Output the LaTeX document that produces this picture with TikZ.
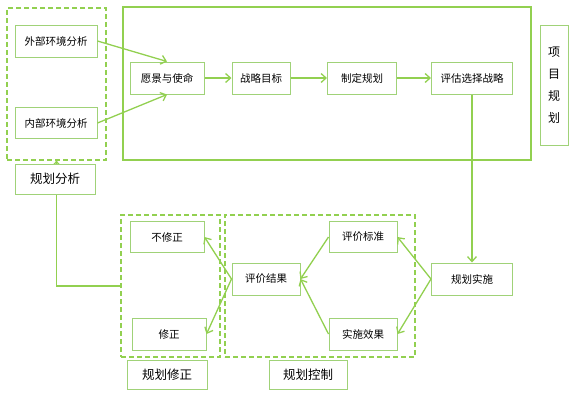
\documentclass[tikz,border=0pt]{standalone}
\usepackage{fontspec}
\newfontfamily\cjk{Noto Sans CJK SC}
\usetikzlibrary{arrows.meta}
\definecolor{lgreen}{RGB}{146,208,80}
\definecolor{bgreen}{RGB}{160,210,120}
\tikzset{
    box/.style={draw=bgreen, line width=1pt, fill=white, inner sep=0pt,
        font=\cjk\fontsize{10.5}{12}\selectfont},
    lbl/.style={box, font=\cjk\fontsize{12.5}{14}\selectfont},
    grp/.style={draw=lgreen, line width=1.2pt, dash pattern=on 5pt off 3pt, inner sep=0pt},
    arr/.style={draw=lgreen, line width=1.3pt, -{Straight Barb[length=5pt,width=9pt]}},
}
\begin{document}
\begin{tikzpicture}[x=1pt,y=-1pt]
    \useasboundingbox (0,0) rectangle (578,400);
    \node[draw=lgreen, line width=2.2pt, minimum width=408, minimum height=153,
        inner sep=0pt] (frame) at (327,83.5) {};
    \node[grp, minimum width=99, minimum height=152] (anlgrp) at (56.5,84) {};
    \node[grp, minimum width=99, minimum height=142] (fixgrp) at (170.5,286) {};
    \node[grp, minimum width=190, minimum height=142] (ctlgrp) at (320,286) {};
    \draw[arr] (fixgrp.west) -| (anlgrp.south);
    \node[box, minimum width=82, minimum height=32] (ext) at (56,41) {外部环境分析};
    \node[box, minimum width=82, minimum height=31] (int) at (56,123) {内部环境分析};
    \node[lbl, minimum width=80, minimum height=30] (anl) at (55,179) {规划分析};
    \node[box, minimum width=74, minimum height=32] (vis) at (167,78) {愿景与使命};
    \node[box, minimum width=58, minimum height=32] (goal) at (261,78) {战略目标};
    \node[box, minimum width=69, minimum height=32] (plan) at (362,78) {制定规划};
    \node[box, minimum width=81, minimum height=32] (eval) at (472,78) {评估选择战略};
    \node[box, minimum width=28, minimum height=120, align=center,
        font=\cjk\fontsize{12}{22}\selectfont] (proj) at (554,85) {项\\目\\规\\划};
    \node[box, minimum width=81, minimum height=32] (impl) at (472,279) {规划实施};
    \node[box, minimum width=68, minimum height=32] (res) at (266,279) {评价结果};
    \node[box, minimum width=68, minimum height=31] (std) at (363,237) {评价标准};
    \node[box, minimum width=68, minimum height=32] (eff) at (363,334) {实施效果};
    \node[box, minimum width=74, minimum height=31] (nofix) at (167,237) {不修正};
    \node[box, minimum width=74, minimum height=32] (fix) at (169,334) {修正};
    \node[lbl, minimum width=80, minimum height=29] (fixlbl) at (167,375) {规划修正};
    \node[lbl, minimum width=78, minimum height=29] (ctllbl) at (308,375) {规划控制};
    \draw[arr] (ext.east) -- (vis.north);
    \draw[arr] (int.east) -- (vis.south);
    \draw[arr] (vis) -- (goal);
    \draw[arr] (goal) -- (plan);
    \draw[arr] (plan) -- (eval);
    \draw[arr] (eval.south) -- (impl.north);
    \draw[arr] (impl.west) -- (std.east);
    \draw[arr] (impl.west) -- (eff.east);
    \draw[arr] (std.west) -- (res.east);
    \draw[arr] (eff.west) -- (res.east);
    \draw[arr] (res.west) -- (nofix.east);
    \draw[arr] (res.west) -- (fix.east);
\end{tikzpicture}
\end{document}
